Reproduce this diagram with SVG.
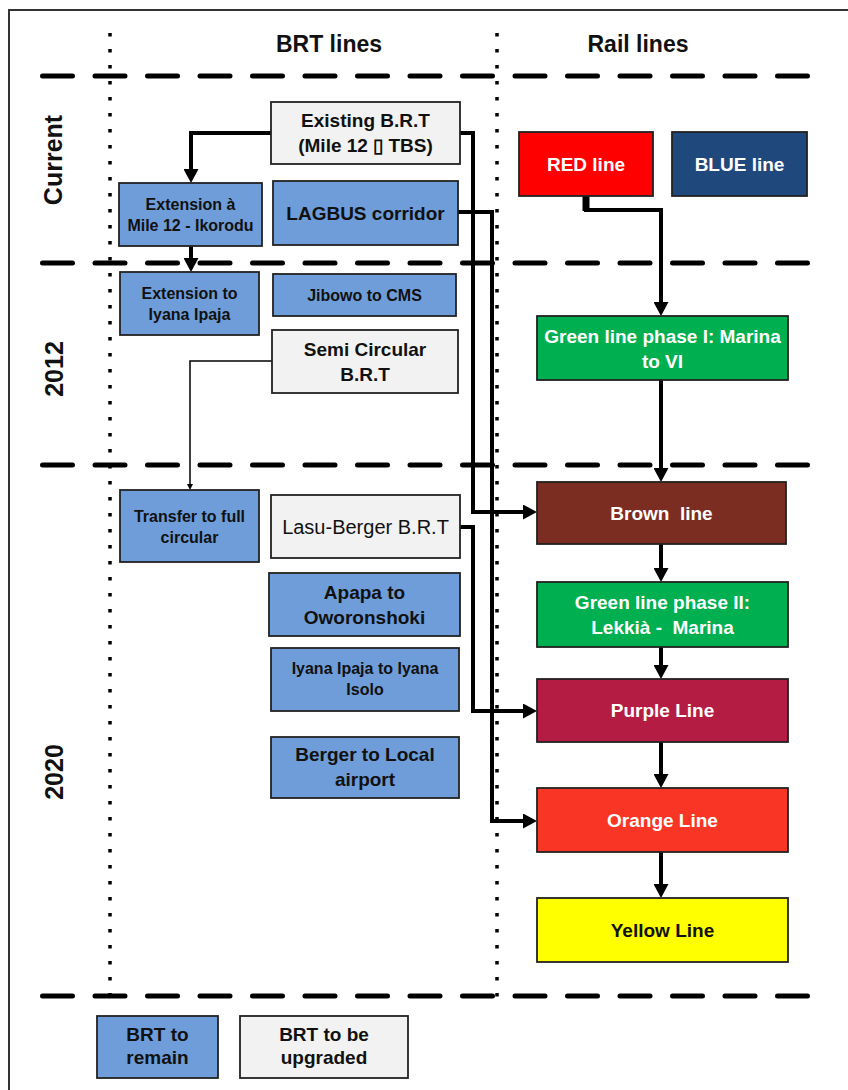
<svg xmlns="http://www.w3.org/2000/svg" width="848" height="1090" viewBox="0 0 848 1090">
<style>
  text { font-family: "Liberation Sans", Arial, sans-serif; font-weight: bold; text-anchor: middle; }
  .big { font-size: 19px; fill: #111; }
  .sm { font-size: 16px; fill: #111; }
  .wh { fill: #ffffff; }
  .hdr { font-size: 23px; fill: #111; }
  .yr { font-size: 25px; fill: #111; }
  .blue { fill: #6e9dd9; stroke: #222; stroke-width: 1.8; }
  .gray { fill: #f2f2f2; stroke: #222; stroke-width: 1.8; }
  .rail { stroke: #222; stroke-width: 1.8; }
  .dash { stroke: #000; stroke-width: 5; stroke-linecap: round; stroke-dasharray: 30 22.5; fill: none; }
  .dot { stroke: #000; stroke-width: 3.5; stroke-dasharray: 3.5 12.5; fill: none; }
  .conn { fill: none; stroke: #000; stroke-width: 4; stroke-linejoin: miter; }
  .thin { fill: none; stroke: #000; stroke-width: 1.5; }
</style>
<defs>
  <marker id="arr" markerUnits="userSpaceOnUse" markerWidth="14" markerHeight="15" refX="0" refY="7.5" orient="auto">
    <path d="M0,0 L14,7.5 L0,15 z" fill="#000"/>
  </marker>
  <marker id="arrs" markerUnits="userSpaceOnUse" markerWidth="6" markerHeight="6" refX="0" refY="3" orient="auto">
    <path d="M0,0 L6,3 L0,6 z" fill="#000"/>
  </marker>
</defs>

<rect x="0" y="0" width="848" height="1090" fill="#ffffff"/>

<g id="frame">
  <path d="M9,1090 V10 H848" fill="none" stroke="#333" stroke-width="2"/>
  <line class="dot" x1="110" y1="33" x2="110" y2="1000"/>
  <line class="dot" x1="497" y1="33" x2="497" y2="1000"/>
  <line class="dash" x1="42.5" y1="76" x2="812" y2="76"/>
  <line class="dash" x1="42.5" y1="263" x2="812" y2="263"/>
  <line class="dash" x1="42.5" y1="465" x2="812" y2="465"/>
  <line class="dash" x1="42.5" y1="996" x2="812" y2="996"/>
  <text class="hdr" x="329" y="52">BRT lines</text>
  <text class="hdr" x="638" y="52">Rail lines</text>
  <text class="yr" transform="translate(62,160) rotate(-90)">Current</text>
  <text class="yr" transform="translate(63,369) rotate(-90)">2012</text>
  <text class="yr" transform="translate(63,772) rotate(-90)">2020</text>
</g>

<g id="connectors">
  <path class="conn" d="M271,133 H191 V169" marker-end="url(#arr)"/>
  <path class="conn" d="M191,246 V258" marker-end="url(#arr)"/>
  <path class="conn" d="M460,133 H473 V512 H523" marker-end="url(#arr)"/>
  <path class="conn" d="M458,212 H492 V821 H523" marker-end="url(#arr)"/>
  <path class="conn" d="M460,527 H473 V711 H523" marker-end="url(#arr)"/>
  <path class="thin" d="M272,361 H190 V484" marker-end="url(#arrs)"/>
  <path class="conn" d="M586,196 V210 H661 V302" marker-end="url(#arr)"/>
  <path d="M586,196 V211" stroke="#000" stroke-width="7" fill="none"/>
  <path class="conn" d="M661,380 V468" marker-end="url(#arr)"/>
  <path class="conn" d="M661,544 V568" marker-end="url(#arr)"/>
  <path class="conn" d="M661,647 V665" marker-end="url(#arr)"/>
  <path class="conn" d="M661,742 V774" marker-end="url(#arr)"/>
  <path class="conn" d="M661,852 V884" marker-end="url(#arr)"/>
</g>

<g id="existing-brt">
  <rect class="gray" x="271" y="102" width="189" height="62"/>
  <text class="big" x="365.5" y="127">Existing B.R.T</text>
  <text class="big" x="365.5" y="152">(Mile 12 ▯  TBS)</text>
</g>
<g id="ext-ikorodu">
  <rect class="blue" x="119" y="183" width="143" height="63"/>
  <text class="sm" x="190.5" y="209.5">Extension à</text>
  <text class="sm" x="190.5" y="230.5">Mile 12 - Ikorodu</text>
</g>
<g id="lagbus">
  <rect class="blue" x="273" y="181" width="185" height="64"/>
  <text class="big" x="365.5" y="219.6">LAGBUS corridor</text>
</g>
<g id="ext-iyana">
  <rect class="blue" x="120" y="272" width="139" height="63"/>
  <text class="sm" x="189.5" y="298.5">Extension to</text>
  <text class="sm" x="189.5" y="319.5">Iyana Ipaja</text>
</g>
<g id="jibowo">
  <rect class="blue" x="273" y="274" width="183" height="42"/>
  <text class="sm" x="364.5" y="300.6">Jibowo to CMS</text>
</g>
<g id="semi-circular">
  <rect class="gray" x="272" y="330" width="186" height="63"/>
  <text class="big" x="365" y="355.6">Semi Circular</text>
  <text class="big" x="365" y="380.6">B.R.T</text>
</g>
<g id="transfer">
  <rect class="blue" x="120" y="490" width="139" height="72"/>
  <text class="sm" x="189.5" y="521.7">Transfer to full</text>
  <text class="sm" x="189.5" y="542.7">circular</text>
</g>
<g id="lasu-berger">
  <rect class="gray" x="271" y="495" width="189" height="63"/>
  <text class="big" x="365.5" y="533.8" style="font-weight:normal;font-size:20px">Lasu-Berger B.R.T</text>
</g>
<g id="apapa">
  <rect class="blue" x="269" y="573" width="191" height="63"/>
  <text class="big" x="364.5" y="598.7">Apapa to</text>
  <text class="big" x="364.5" y="623.7">Oworonshoki</text>
</g>
<g id="iyana-isolo">
  <rect class="blue" x="271" y="648" width="188" height="63"/>
  <text class="sm" x="365" y="673.7">Iyana  Ipaja to Iyana</text>
  <text class="sm" x="365" y="694.7">Isolo</text>
</g>
<g id="berger-airport">
  <rect class="blue" x="271" y="737" width="188" height="61"/>
  <text class="big" x="365" y="761.3">Berger to Local</text>
  <text class="big" x="365" y="786.3">airport</text>
</g>

<g id="red-line">
  <rect class="rail" x="519" y="132" width="134" height="64" fill="#ff0000"/>
  <text class="big wh" x="586" y="170.6">RED line</text>
</g>
<g id="blue-line">
  <rect class="rail" x="672" y="132" width="135" height="64" fill="#1f497d"/>
  <text class="big wh" x="739.5" y="170.6">BLUE line</text>
</g>
<g id="green-line-1">
  <rect class="rail" x="537" y="316" width="251" height="64" fill="#00b050"/>
  <text class="big wh" x="662.5" y="342.6">Green line phase I: Marina</text>
  <text class="big wh" x="662.5" y="367.6">to VI</text>
</g>
<g id="brown-line">
  <rect class="rail" x="537" y="482" width="249" height="62" fill="#7b2d21"/>
  <text class="big wh" x="661.5" y="519.6" xml:space="preserve">Brown  line</text>
</g>
<g id="green-line-2">
  <rect class="rail" x="537" y="582" width="251" height="65" fill="#00b050"/>
  <text class="big wh" x="662.5" y="608.6">Green line phase II:</text>
  <text class="big wh" x="662.5" y="633.6" xml:space="preserve">Lekkià -  Marina</text>
</g>
<g id="purple-line">
  <rect class="rail" x="537" y="679" width="251" height="63" fill="#b51c44"/>
  <text class="big wh" x="662.5" y="717.1">Purple Line</text>
</g>
<g id="orange-line">
  <rect class="rail" x="537" y="788" width="251" height="64" fill="#f93526"/>
  <text class="big wh" x="662.5" y="826.6">Orange Line</text>
</g>
<g id="yellow-line">
  <rect class="rail" x="537" y="898" width="251" height="64" fill="#ffff00"/>
  <text class="big" x="662.5" y="936.6">Yellow Line</text>
</g>

<g id="legend-remain">
  <rect class="blue" x="97" y="1016" width="121" height="62"/>
  <text class="big" x="157.5" y="1041">BRT to</text>
  <text class="big" x="157.5" y="1064">remain</text>
</g>
<g id="legend-upgraded">
  <rect class="gray" x="240" y="1016" width="168" height="62"/>
  <text class="big" x="324" y="1041">BRT to be</text>
  <text class="big" x="324" y="1064">upgraded</text>
</g>
</svg>
